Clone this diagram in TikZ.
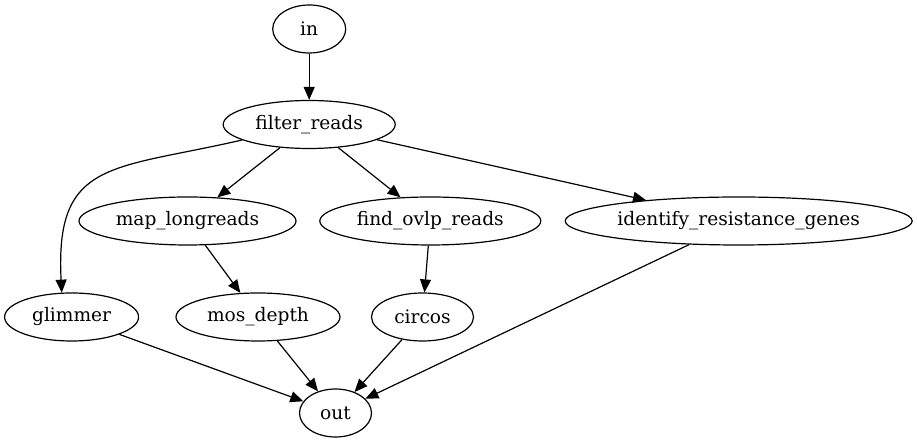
\documentclass[tikz,border=0pt]{standalone}
\usepackage{fontspec}
\setmainfont{DejaVu Serif}
\usetikzlibrary{shapes.geometric,arrows.meta}

\begin{document}
\begin{tikzpicture}[x=1pt, y=1pt, line width=1.2pt,
  >={Triangle[length=13pt,width=11pt]},
  font=\fontsize{18.6}{22}\selectfont,
  task/.style={draw, ellipse, inner sep=0pt, minimum height=48pt}]
  \useasboundingbox (0,0) rectangle (917,443);
  % nodes
	\node [task, minimum width=73pt] (0) at (309.2, 414) {in};
	\node [task, minimum width=172pt] (1) at (309.2, 318.5) {filter\_reads};
	%% row 2
	\node [task, minimum width=217pt] (2) at (187.5, 222) {map\_longreads};
	\node [task, minimum width=221pt] (3) at (430.3, 222) {find\_ovlp\_reads};
	\node [task, minimum width=347pt] (4) at (738.7, 222) {identify\_resistance\_genes};
	%% row 3
	\node [task, minimum width=134pt] (5) at (71.6, 126) {glimmer};
	\node [task, minimum width=164pt] (6) at (258, 126) {mos\_depth};
	\node [task, minimum width=102pt] (7) at (422.5, 126) {circos};
	%% bottom
	\node [task, minimum width=72pt] (8) at (335.5, 30) {out};
	% edges
	\draw [->] (0) to (1);
	\draw [->] (1) to (2);
	\draw [->] (1) to (3);
	\draw [->] (1) to (4);
	\draw [->, out=193, in=93, looseness=1.45] (1) to (5.112);
	\draw [->] (2) to (6);
	\draw [->] (3) to (7);
	%% into out
	\draw [->] (5) to (8);
	\draw [->] (6) to (8);
	\draw [->] (7) to (8);
	\draw [->] (4) to (8);
\end{tikzpicture}
\end{document}
